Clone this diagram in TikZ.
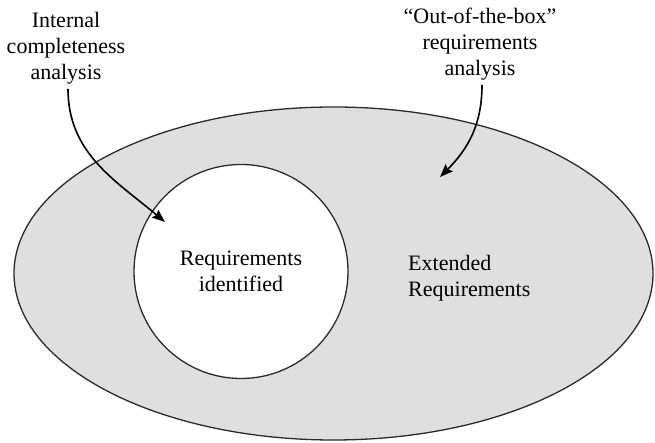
\documentclass[tikz,border=0pt]{standalone}
\usepackage{fontspec}
\setmainfont{Liberation Serif}
\usetikzlibrary{arrows.meta,shapes.geometric}

\definecolor{regiongray}{HTML}{DFDFDF}
\definecolor{outline}{HTML}{2A2A2A}

\begin{document}
\begin{tikzpicture}[x=1pt,y=1pt,
  label/.style={inner sep=0pt, font=\fontsize{22}{26}\selectfont},
  region/.style={draw=outline, line width=1.3pt},
  pointer/.style={line width=1.6pt, black,
    -{Stealth[length=13pt,width=10pt,inset=2pt]}}]
  \useasboundingbox (0,0) rectangle (655,443);

  % outer region and the inner circle
  \node[region, fill=regiongray, ellipse, minimum width=639, minimum height=333,
        inner sep=0pt] (outer) at (333.5,169.5) {};
  \node[region, fill=white, circle, minimum size=214, inner sep=0pt]
        (inner) at (241,171.5) {};

  % labels inside the regions (base = baseline of the last line)
  \node[label, align=center, anchor=base] (innertxt) at (241,151)
        {Requirements\\identified};
  \node[label, align=left, anchor=base west] (outertxt) at (408,146)
        {Extended\\Requirements};

  % analysis labels above
  \node[label, align=center, anchor=base] (internal) at (66,363)
        {Internal\\completeness\\analysis};
  \node[label, align=center, anchor=base] (oob) at (480,367)
        {“Out-of-the-box”\\requirements\\analysis};

  % arrow targets
  \coordinate (intip) at (165,221);
  \coordinate (oobtip) at (440,266);

  \draw[pointer] ([shift={(2,-4)}]internal.south) to[out=-90,in=140] (intip);
  \draw[pointer] ([shift={(2,-4)}]oob.south) to[out=-90,in=45] (oobtip);
\end{tikzpicture}
\end{document}
